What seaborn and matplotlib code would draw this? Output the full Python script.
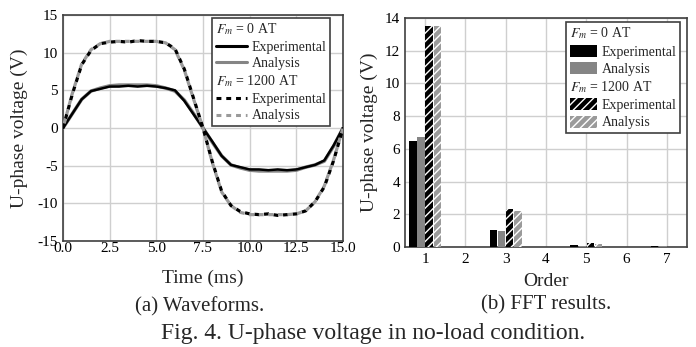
import numpy as np
import pandas as pd
import matplotlib
matplotlib.use("Agg")
import matplotlib.pyplot as plt
import seaborn as sns
from matplotlib.lines import Line2D
from matplotlib.patches import Patch

# ---------------- data ----------------
time_ms = [0.0, 0.5, 1.0, 1.5, 2.0, 2.5, 3.0, 3.5, 4.0, 4.5, 5.0, 5.5, 6.0, 6.5, 7.0,
           7.5, 8.0, 8.5, 9.0, 9.5, 10.0, 10.5, 11.0, 11.5, 12.0, 12.5, 13.0, 13.5,
           14.0, 14.5, 15.0]
v_fm0_exp = [0.0, 1.9, 3.8, 4.9, 5.2, 5.5, 5.5, 5.6, 5.5, 5.6, 5.5, 5.3, 5.0, 3.6, 1.8,
             0.0, -1.8, -3.7, -4.9, -5.2, -5.5, -5.5, -5.6, -5.5, -5.6, -5.5, -5.2, -4.9,
             -4.3, -2.3, 0.0]
v_fm0_ana = [0.0, 1.9, 3.8, 4.9, 5.3, 5.6, 5.7, 5.7, 5.7, 5.7, 5.6, 5.3, 4.9, 3.7, 1.9,
             0.0, -1.9, -3.7, -4.9, -5.3, -5.6, -5.7, -5.7, -5.7, -5.7, -5.6, -5.2, -4.9,
             -4.4, -2.4, 0.0]
v_fm1200_exp = [0.0, 4.5, 8.4, 10.3, 11.2, 11.4, 11.5, 11.4, 11.6, 11.5, 11.5, 11.3, 10.5,
                7.8, 3.9, 0.0, -4.5, -8.4, -10.3, -11.1, -11.4, -11.5, -11.4, -11.6, -11.5,
                -11.4, -11.0, -9.8, -7.8, -4.3, 0.0]
v_fm1200_ana = [0.0, 4.6, 8.5, 10.4, 11.2, 11.5, 11.5, 11.5, 11.5, 11.5, 11.5, 11.3, 10.4,
                7.7, 3.8, 0.0, -4.6, -8.5, -10.3, -11.2, -11.5, -11.5, -11.5, -11.5, -11.5,
                -11.4, -11.0, -9.8, -7.7, -4.2, 0.0]

orders = ["1", "2", "3", "4", "5", "6", "7"]
fft_fm0_exp = [6.5, 0.01, 1.05, 0.01, 0.12, 0.01, 0.05]
fft_fm0_ana = [6.7, 0.01, 0.98, 0.01, 0.06, 0.01, 0.06]
fft_fm1200_exp = [13.5, 0.01, 2.35, 0.01, 0.25, 0.01, 0.03]
fft_fm1200_ana = [13.5, 0.01, 2.2, 0.01, 0.18, 0.01, 0.02]

series_names = ["Fm0 Experimental", "Fm0 Analysis", "Fm1200 Experimental", "Fm1200 Analysis"]
legend_labels = [r"$F_m$ = 0 AT", "Experimental", "Analysis",
                 r"$F_m$ = 1200 AT", "Experimental", "Analysis"]

# ---------------- style ----------------
sns.set_theme(style="whitegrid")
plt.rcParams["font.family"] = ["Liberation Serif", "DejaVu Serif"]
plt.rcParams["mathtext.fontset"] = "stix"
plt.rcParams["axes.unicode_minus"] = False
plt.rcParams["hatch.linewidth"] = 1.0

GRID = "#cfcfcf"
SPINE = "#404040"
BLACK = "#000000"
GRAY = "#858585"
LGRAY = "#9a9a9a"

fig = plt.figure(figsize=(6.96, 3.47), dpi=100)
W, H = 696.0, 347.0

def axpos(x0, x1, ytop, ybot):
    return [x0 / W, 1 - ybot / H, (x1 - x0) / W, (ybot - ytop) / H]

ax1 = fig.add_axes(axpos(63, 343, 15, 241))
ax2 = fig.add_axes(axpos(405, 687, 18, 247))

# ---------------- left: waveforms ----------------
wave = pd.DataFrame({"t": time_ms, "a": v_fm0_exp, "b": v_fm0_ana,
                     "c": v_fm1200_exp, "d": v_fm1200_ana})
sns.lineplot(data=wave, x="t", y="b", ax=ax1, color=GRAY, lw=2.5, zorder=3)
sns.lineplot(data=wave, x="t", y="a", ax=ax1, color=BLACK, lw=1.8, zorder=4)
sns.lineplot(data=wave, x="t", y="c", ax=ax1, color=BLACK, lw=2.3, zorder=5)
ax1.lines[-1].set_linestyle((0, (1.5, 1.5)))
sns.lineplot(data=wave, x="t", y="d", ax=ax1, color=LGRAY, lw=2.3, zorder=6)
ax1.lines[-1].set_linestyle((1.5, (1.5, 1.5)))

ax1.set_xlim(0, 15)
ax1.set_ylim(-15, 15)
ax1.set_xticks([0, 2.5, 5, 7.5, 10, 12.5, 15])
ax1.set_xticklabels(["0.0", "2.5", "5.0", "7.5", "10.0", "12.5", "15.0"])
ax1.set_yticks([-15, -10, -5, 0, 5, 10, 15])
ax1.set_xlabel("Time (ms)", fontsize=14)
ax1.set_ylabel("U-phase voltage (V)", fontsize=14)
ax1.xaxis.set_label_coords(0.5, -0.125)
ax1.yaxis.set_label_coords(-0.125, 0.5)
ax1.tick_params(axis="x", length=0, pad=0.5, labelsize=11, colors="black")
ax1.tick_params(axis="y", length=0, pad=3.5, labelsize=11, colors="black")

h_blank = Line2D([], [], linestyle="none")
handles1 = [h_blank,
            Line2D([], [], color=BLACK, lw=2.2),
            Line2D([], [], color=GRAY, lw=2.2),
            h_blank,
            Line2D([], [], color=BLACK, lw=2.2, linestyle=(0, (1.6, 1.6))),
            Line2D([], [], color=LGRAY, lw=2.2, linestyle=(0, (1.6, 1.6)))]

# ---------------- right: FFT ----------------
fft = pd.DataFrame({
    "order": orders * 4,
    "value": fft_fm0_exp + fft_fm0_ana + fft_fm1200_exp + fft_fm1200_ana,
    "series": sum([[s] * len(orders) for s in series_names], []),
})
bar_colors = [BLACK, GRAY, BLACK, LGRAY]
sns.barplot(data=fft, x="order", y="value", hue="series", hue_order=series_names,
            palette=bar_colors, ax=ax2, width=0.8, gap=0.08, saturation=1,
            legend=False, zorder=3)
for i, cont in enumerate(ax2.containers):
    for p in cont.patches:
        p.set_linewidth(0)
        if i >= 2:
            p.set_hatch("////")
            p.set_edgecolor("white")
ax2.set_xlim(-0.5, 6.5)
ax2.set_ylim(0, 14)
ax2.set_yticks([0, 2, 4, 6, 8, 10, 12, 14])
ax2.set_xlabel("Order", fontsize=14)
ax2.set_ylabel("U-phase voltage (V)", fontsize=14)
ax2.xaxis.set_label_coords(0.5, -0.115)
ax2.yaxis.set_label_coords(-0.096, 0.5)
ax2.tick_params(axis="x", length=0, pad=4, labelsize=11, colors="black")
ax2.tick_params(axis="y", length=0, pad=3.5, labelsize=11, colors="black")

handles2 = [h_blank,
            Patch(facecolor=BLACK, edgecolor="none"),
            Patch(facecolor=GRAY, edgecolor="none"),
            h_blank,
            Patch(facecolor=BLACK, edgecolor="white", hatch="////", lw=0),
            Patch(facecolor=LGRAY, edgecolor="white", hatch="////", lw=0)]

for ax in (ax1, ax2):
    ax.grid(True, color=GRID, lw=1.0)
    ax.set_axisbelow(True)
    for s in ax.spines.values():
        s.set_visible(True)
        s.set_color(SPINE)
        s.set_linewidth(1.2)
    ax.set_facecolor("white")


def make_legend(ax, handles, labels, anchor, hh, hl):
    leg = ax.legend(handles, labels, loc="upper right", bbox_to_anchor=anchor,
                    borderaxespad=0, fontsize=10, frameon=True, fancybox=False,
                    framealpha=1, edgecolor=SPINE, handlelength=hl, handleheight=hh,
                    handletextpad=0.3, labelspacing=0.25, borderpad=0.25)
    leg.get_frame().set_linewidth(1.2)
    col = leg._legend_handle_box.get_children()[0]
    for i, row in enumerate(col.get_children()):
        if i in (0, 3):
            row.get_children()[0].width = 0
            row.sep = 0
    leg.set_zorder(10)
    return leg


make_legend(ax1, handles1, legend_labels, (0.9536, 0.9867), 0.7, 2.3)
make_legend(ax2, handles2, legend_labels, (0.975, 0.9825), 0.95, 2.0)

# ---------------- captions ----------------
fig.text(200 / W, 1 - 307 / H, "(a) Waveforms.", ha="center", va="center", fontsize=15)
fig.text(546 / W, 1 - 305 / H, "(b) FFT results.", ha="center", va="center", fontsize=15)
fig.text(373 / W, 1 - 334 / H, "Fig. 4. U-phase voltage in no-load condition.",
         ha="center", va="center", fontsize=17)

fig.savefig("out.png", dpi=100)
